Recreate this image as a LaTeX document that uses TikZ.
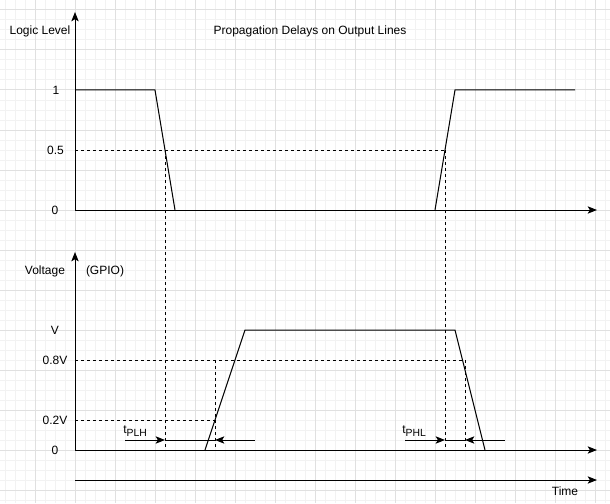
\documentclass[tikz,border=0pt]{standalone}
\usepackage{fontspec}
\setmainfont{Liberation Sans}
\usetikzlibrary{arrows.meta}
\definecolor{gridminor}{HTML}{F2F2F2}
\definecolor{gridmajor}{HTML}{E0E0E0}
\newcommand{\mysubs}[1]{\raisebox{-2.4pt}{\fontsize{7.8}{9}\selectfont #1}}
\begin{document}
\begin{tikzpicture}[x=0.75pt,y=-0.75pt,
  font=\fontsize{9}{11}\selectfont,
  minorgrid/.style={gridminor,line width=0.75pt},
  majorgrid/.style={gridmajor,line width=0.75pt},
  axis/.style={line width=0.75pt,-{Stealth[length=7pt,width=5.5pt,inset=1.6pt]}},
  plainline/.style={line width=0.75pt},
  sig/.style={line width=0.75pt,line join=miter},
  guide/.style={line width=0.75pt,dash pattern=on 2.25pt off 2.25pt},
  tarrow/.style={line width=0.75pt,-{Stealth[length=7pt,width=5.5pt,inset=1.6pt]}},
  txt/.style={inner sep=0pt,text=black}]
\useasboundingbox (0,0) rectangle (610,503);
\fill[white] (0,0) rectangle (610,503);
% grid
\foreach \x in {5,15,...,605} \draw[minorgrid] (\x,0) -- (\x,503);
\foreach \y in {0,10,...,500} \draw[minorgrid] (0,\y) -- (610,\y);
\foreach \x in {35,75,...,595} \draw[majorgrid] (\x,0) -- (\x,503);
\foreach \y in {10,50,...,490} \draw[majorgrid] (0,\y) -- (610,\y);

% ---------- top chart ----------
\coordinate (t0) at (75,210);
\coordinate (ttop) at (75,12);
\coordinate (tend) at (597,210);
\coordinate (thalfL) at (75,150);
\coordinate (a1) at (75,90);
\coordinate (a2) at (155,90);
\coordinate (a3) at (175,210);
\coordinate (b1) at (435,210);
\coordinate (b2) at (455,90);
\coordinate (b3) at (575,90);
\coordinate (c1) at (165,150);
\coordinate (c2) at (445,150);

\draw[guide] (thalfL) -- (c2);
\draw[sig] (a1) -- (a2) -- (a3);
\draw[sig] (b1) -- (b2) -- (b3);
\draw[axis] (t0) -- (ttop);
\draw[axis] (t0) -- (tend);

\node[txt] (lbllogic) at (40,31) {Logic Level};
\node[txt] (title) at (310,31) {Propagation Delays on Output Lines};
\node[txt] (l1) at (56,90) {1};
\node[txt] (l05) at (55.5,150) {0.5};
\node[txt] (l0) at (55,210) {0};

% ---------- bottom chart ----------
\coordinate (v0) at (75,450);
\coordinate (vtop) at (75,252);
\coordinate (vend) at (597,450);
\coordinate (w0) at (75,480);
\coordinate (wend) at (597,480);
\coordinate (d1) at (205,450);
\coordinate (d2) at (245,330);
\coordinate (d3) at (455,330);
\coordinate (d4) at (485,450);
\coordinate (h8L) at (75,360);
\coordinate (h8R) at (465,360);
\coordinate (h8m) at (215,360);
\coordinate (h2L) at (75,420);
\coordinate (h2R) at (215,420);
\coordinate (c1b) at (165,450);
\coordinate (c2b) at (445,450);
\coordinate (m1b) at (215,450);
\coordinate (m2b) at (465,450);

\draw[guide] (h8L) -- (h8R);
\draw[guide] (h2L) -- (h2R);
\draw[guide] (c1) -- (c1b);
\draw[guide] (c2) -- (c2b);
\draw[guide] (h8m) -- (m1b);
\draw[guide] (h8R) -- (m2b);
\draw[sig] (d1) -- (d2) -- (d3) -- (d4);
\draw[axis] (v0) -- (vtop);
\draw[axis] (v0) -- (vend);
\draw[axis] (w0) -- (wend);

% delay markers
\coordinate (p1) at (125,440);
\coordinate (p2) at (165,440);
\coordinate (p3) at (215,440);
\coordinate (p4) at (255,440);
\draw[tarrow] (p1) -- (p2);
\draw[plainline] (p2) -- (p3);
\draw[tarrow] (p4) -- (p3);
\coordinate (q1) at (405,440);
\coordinate (q2) at (445,440);
\coordinate (q3) at (465,440);
\coordinate (q4) at (505,440);
\draw[tarrow] (q1) -- (q2);
\draw[plainline] (q2) -- (q3);
\draw[tarrow] (q4) -- (q3);

\node[txt] (lblvolt) at (45,271) {Voltage};
\node[txt] (lblgpio) at (105,271) {(GPIO)};
\node[txt] (lv) at (55,330) {V};
\node[txt] (l08) at (55,360) {0.8V};
\node[txt] (l02) at (55,420) {0.2V};
\node[txt] (lb0) at (55,450) {0};
\node[txt,anchor=base west] (tplh) at (123,433) {t\mysubs{PLH}};
\node[txt,anchor=base west] (tphl) at (402,433) {t\mysubs{PHL}};
\node[txt] (lbltime) at (565,491) {Time};
\end{tikzpicture}
\end{document}
